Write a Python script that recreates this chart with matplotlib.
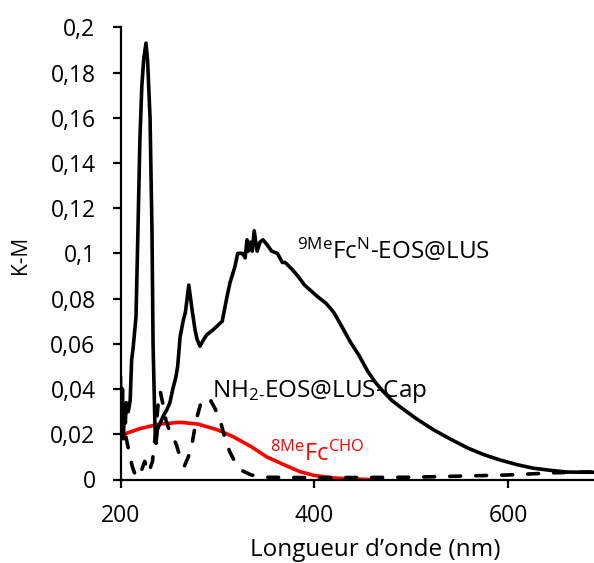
import numpy as np
import matplotlib
matplotlib.use("Agg")
import matplotlib.pyplot as plt

# font settings (Open Sans is closest to the Calibri look of the original)
plt.rcParams['font.family'] = ['Open Sans', 'DejaVu Sans']
plt.rcParams['mathtext.fontset'] = 'custom'
plt.rcParams['mathtext.rm'] = 'Open Sans'
plt.rcParams['mathtext.it'] = 'Open Sans'
plt.rcParams['mathtext.default'] = 'regular'

# 9MeFc^N-EOS@LUS (solid black)
wl_fcn = [200, 201, 202, 203, 204, 205, 206, 208, 210, 211.5, 213, 216, 218, 220, 222, 224, 226.3,
          228, 230.5, 232.5, 233.6, 235.6, 236.7, 238, 241, 244, 248, 251, 254, 257, 259, 261.5,
          264.6, 267, 270.5, 273.9, 277, 279, 282, 286, 289, 295, 300, 305, 310, 313, 318, 321,
          326, 328.6, 330.6, 332, 334, 336, 338, 341, 344, 347, 351, 356, 362, 367, 370, 377,
          383, 390, 403, 412, 420, 428, 437, 446, 455, 463, 471, 480, 489, 505, 523, 540, 558, 575,
          592, 610, 626, 645, 661, 680, 700]
km_fcn = [0.045, 0.022, 0.040, 0.018, 0.032, 0.025, 0.034, 0.030, 0.035, 0.053, 0.058, 0.072, 0.110,
          0.150, 0.174, 0.186, 0.193, 0.185, 0.160, 0.110, 0.060, 0.023, 0.016, 0.022, 0.025, 0.028,
          0.031, 0.034, 0.040, 0.045, 0.050, 0.063, 0.070, 0.074, 0.086, 0.075, 0.066, 0.062, 0.059,
          0.062, 0.064, 0.066, 0.068, 0.070, 0.081, 0.087, 0.094, 0.100, 0.100, 0.098, 0.106, 0.101,
          0.105, 0.101, 0.110, 0.101, 0.105, 0.106, 0.104, 0.101, 0.100, 0.096, 0.096, 0.093, 0.090,
          0.086, 0.081, 0.078, 0.074, 0.068, 0.061, 0.055, 0.048, 0.043, 0.039, 0.035, 0.032, 0.027,
          0.022, 0.018, 0.014, 0.011, 0.0086, 0.0065, 0.005, 0.004, 0.0033, 0.0032, 0.0032]

# NH2-EOS@LUS-Cap (dashed black)
wl_cap = [200, 204, 208, 212, 216, 220, 225, 229, 233, 236, 239, 241, 244, 247, 251, 255, 258, 262,
          266, 270, 274, 278, 283, 288, 293, 298, 303, 308, 313, 318, 325, 335, 350, 400, 500, 550,
          600, 650, 700]
km_cap = [0.030, 0.022, 0.014, 0.006, 0.001, 0.002, 0.008, 0.003, 0.008, 0.020, 0.034, 0.039, 0.033,
          0.026, 0.021, 0.018, 0.015, 0.009, 0.006, 0.010, 0.016, 0.026, 0.034, 0.036, 0.035, 0.031,
          0.026, 0.018, 0.012, 0.008, 0.004, 0.002, 0.001, 0.0008, 0.001, 0.0015, 0.002, 0.003, 0.0035]

# 8MeFc^CHO (red)
wl_cho = [200, 220, 240, 262, 280, 300, 316, 335, 351, 370, 385, 400, 420, 440, 460, 470]
km_cho = [0.0195, 0.0225, 0.0245, 0.0253, 0.0245, 0.022, 0.019, 0.0145, 0.010, 0.0063, 0.0035,
          0.0018, 0.0007, 0.0002, 0.0, 0.0]

y_ticks = [0, 0.02, 0.04, 0.06, 0.08, 0.1, 0.12, 0.14, 0.16, 0.18, 0.2]
y_labels = ['0', '0,02', '0,04', '0,06', '0,08', '0,1', '0,12', '0,14', '0,16', '0,18', '0,2']
x_ticks = [200, 400, 600]

W, H = 594, 563
fig = plt.figure(figsize=(W / 100, H / 100), dpi=100)
# axes runs past the right edge like the cropped original
ax = fig.add_axes([120.5 / W, 1 - 479.5 / H, 484.4 / W, 452.2 / H])

ax.plot(wl_cho, km_cho, color='#ff0000', lw=2.6, solid_capstyle='round', zorder=2)
ax.plot(wl_cap, km_cap, color='black', lw=2.6, dashes=(3.0, 4.2), dash_capstyle='round', zorder=3)
ax.plot(wl_fcn, km_fcn, color='black', lw=2.6, solid_joinstyle='round', zorder=4)

ax.set_xlim(200, 700)
ax.set_ylim(0, 0.2)
ax.set_xticks(x_ticks)
ax.set_yticks(y_ticks)
ax.set_yticklabels(y_labels)

for s in ['top', 'right']:
    ax.spines[s].set_visible(False)
for s in ['left', 'bottom']:
    ax.spines[s].set_linewidth(1.6)
ax.tick_params(axis='both', direction='out', length=6, width=1.6, labelsize=16.5, colors='black')
ax.tick_params(axis='x', pad=12)
ax.tick_params(axis='y', pad=12)

fig.text(20 / W, 1 - 255 / H, 'K-M', rotation=90, ha='center', va='center', fontsize=15)
fig.text(375.5 / W, 1 - 550 / H, 'Longueur d\u2019onde (nm)', ha='center', va='center', fontsize=17.5)

# curve labels
ax.text(297 / W, 1 - 259 / H, r'$^{9Me}$Fc$^{N}$-EOS@LUS', transform=fig.transFigure,
        fontsize=17.5, ha='left', va='baseline')
ax.text(212 / W, 1 - 397 / H, r'NH$_{2\text{-}}$EOS@LUS-Cap', transform=fig.transFigure,
        fontsize=17.5, ha='left', va='baseline', zorder=1)
ax.text(270 / W, 1 - 461 / H, r'$^{8Me}$Fc$^{CHO}$', transform=fig.transFigure,
        fontsize=17, ha='left', va='baseline', color='#ff0000')

fig.savefig('out.png', dpi=100)
